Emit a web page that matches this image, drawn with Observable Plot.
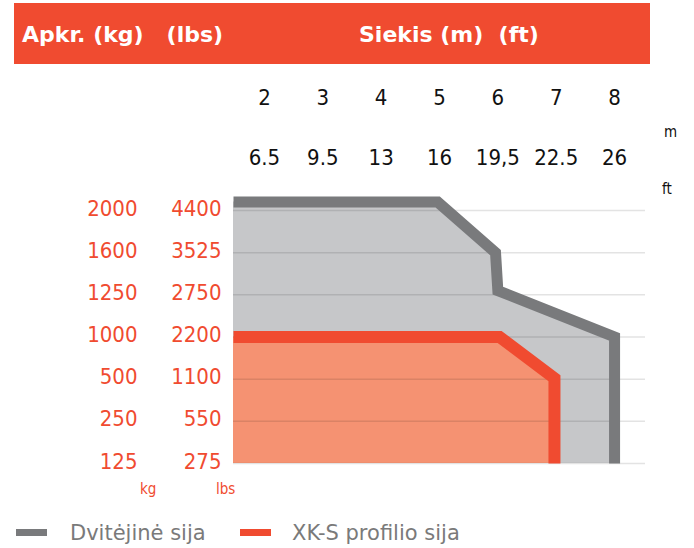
<!DOCTYPE html>
<html><head><meta charset="utf-8">
<script src="https://cdn.jsdelivr.net/npm/d3@7"></script>
<script src="https://cdn.jsdelivr.net/npm/@observablehq/plot@0.6"></script>
<style>
body{margin:0;background:#fff;}
#wrap{position:relative;width:694px;height:548px;overflow:hidden;font-family:"DejaVu Sans Condensed","DejaVu Sans",sans-serif;}
#chart{position:absolute;left:0;top:0;}
#header{position:absolute;left:14px;top:3px;width:636px;height:61px;background:#F04B30;color:#fff;font-weight:bold;font-size:22px;line-height:22px;font-family:"DejaVu Sans",sans-serif;}
#header span{position:absolute;top:21px;white-space:pre;}
.unit{position:absolute;font-size:15px;line-height:15px;white-space:nowrap;}
#legend{position:absolute;left:0;top:520px;width:694px;height:26px;font-size:21px;line-height:22px;color:#7a7a7a;font-family:"DejaVu Sans",sans-serif;}
#legend .sw{position:absolute;top:9px;width:31px;height:7px;}
#legend .lt{position:absolute;top:2px;white-space:nowrap;}
</style></head>
<body>
<div id="wrap">
  <div id="chart"></div>
  <div id="header"><span id="h1" style="left:8px"></span><span id="h2" style="left:345px"></span></div>
  <div class="unit" id="um" style="left:664px;top:125px;color:#111"></div>
  <div class="unit" id="uft" style="left:662px;top:182px;color:#111"></div>
  <div class="unit" id="ukg" style="left:140px;top:482px;color:#F04B30"></div>
  <div class="unit" id="ulbs" style="left:216px;top:482px;color:#F04B30"></div>
  <div id="legend"></div>
</div>
<script>
// ---- data ----
const headerLeft = "Apkr. (kg)   (lbs)";
const headerRight = "Siekis (m)  (ft)";
const reachM = [2, 3, 4, 5, 6, 7, 8];
const reachFt = ["6.5", "9.5", "13", "16", "19,5", "22.5", "26"];
const reachExtent = [1.47, 8.53];
const capKg = [125, 250, 500, 1000, 1250, 1600, 2000];
const capLbs = [275, 550, 1100, 2200, 2750, 3525, 4400];
const seriesNames = ["Dvitėjinė sija", "XK-S profilio sija"];
const iBeamReach = [1.47, 4.97, 5.96, 6.0, 8.0, 8.0];
const iBeamLoad = [2080, 2080, 1600, 1285, 1000, 125];
const xksReach = [1.47, 6.03, 6.97, 6.97];
const xksLoad = [1000, 1000, 510, 125];

const RED = "#F04B30", DARK = "#797a7c", LIGHT = "#c6c7c9", SALMON = "#F59272";
const iBeam = iBeamReach.map((m, i) => ({m, kg: iBeamLoad[i]}));
const xks = xksReach.map((m, i) => ({m, kg: xksLoad[i]}));
const floor = capKg[0];
// the capacity axis is evenly stepped between its tick values
const kgToStep = d3.scaleLinear().domain(capKg).range(capKg.map((_, i) => i));

document.getElementById("h1").textContent = headerLeft;
document.getElementById("h2").textContent = headerRight;
document.getElementById("um").textContent = "m";
document.getElementById("uft").textContent = "ft";
document.getElementById("ukg").textContent = "kg";
document.getElementById("ulbs").textContent = "lbs";

const font = '"DejaVu Sans Condensed","DejaVu Sans",sans-serif';
const plot = Plot.plot({
  width: 694, height: 548,
  marginLeft: 233, marginRight: 49, marginTop: 210, marginBottom: 85,
  style: {fontFamily: font, background: "transparent", overflow: "visible"},
  x: {domain: reachExtent, axis: null},
  y: {transform: kgToStep, domain: [0, capKg.length - 1], axis: null, label: null},
  marks: [
    Plot.areaY(iBeam, {x: "m", y1: () => floor, y2: "kg", fill: LIGHT}),
    Plot.areaY(xks, {x: "m", y1: () => floor, y2: "kg", fill: SALMON}),
    Plot.ruleY(capKg, {y: d => d, stroke: "#000", strokeOpacity: 0.11, strokeWidth: 1.5}),
    Plot.line(iBeam, {x: "m", y: "kg", stroke: DARK, strokeWidth: 11, strokeLinejoin: "miter", strokeLinecap: "butt", strokeMiterlimit: 10}),
    Plot.line(xks, {x: "m", y: "kg", stroke: RED, strokeWidth: 12, strokeLinejoin: "miter", strokeLinecap: "butt", strokeMiterlimit: 10}),
    Plot.axisY(capKg, {anchor: "left", label: null, tickSize: 0, tickPadding: 96, tickFormat: d => String(d), color: RED, fontSize: 22, dy: -2}),
    Plot.axisY(capKg, {anchor: "left", label: null, tickSize: 0, tickPadding: 12, tickFormat: d => String(capLbs[capKg.indexOf(d)]), color: RED, fontSize: 22, dy: -2}),
    Plot.text(reachM, {x: d => d, text: d => String(d), frameAnchor: "top", dy: -113, lineAnchor: "middle", fontSize: 22, fill: "#111"}),
    Plot.text(reachM, {x: d => d, text: (d, i) => reachFt[i], frameAnchor: "top", dy: -53, lineAnchor: "middle", fontSize: 22, fill: "#111"})
  ]
});
document.getElementById("chart").appendChild(plot);

const legend = document.getElementById("legend");
const swColors = [DARK, RED];
const swLeft = [16, 240], txtLeft = [70, 292];
seriesNames.forEach((name, i) => {
  const sw = document.createElement("div");
  sw.className = "sw"; sw.style.left = swLeft[i] + "px"; sw.style.background = swColors[i];
  const t = document.createElement("div");
  t.className = "lt"; t.style.left = txtLeft[i] + "px"; t.textContent = name;
  legend.appendChild(sw); legend.appendChild(t);
});
</script>
</body></html>
